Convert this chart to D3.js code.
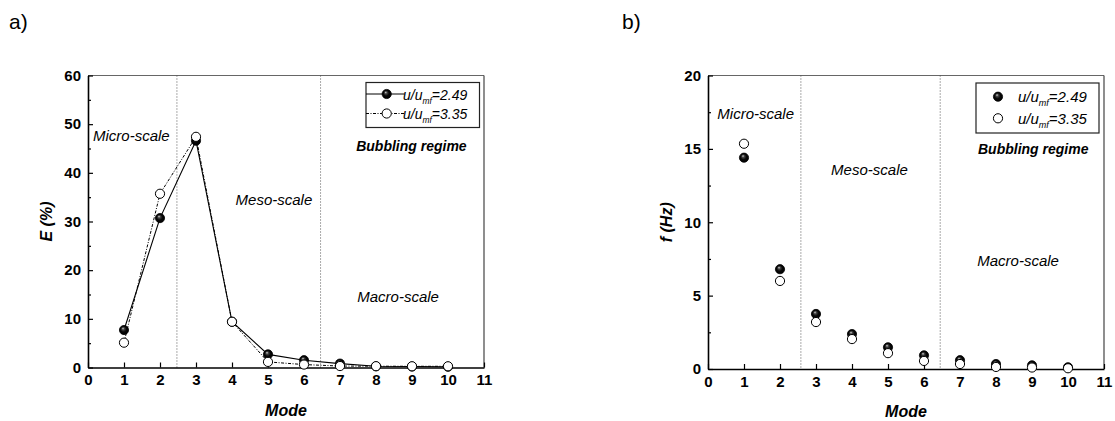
<!DOCTYPE html>
<html>
<head>
<meta charset="utf-8">
<script src="https://cdn.jsdelivr.net/npm/d3@7"></script>
<style>
  html, body { margin: 0; padding: 0; background: #fff; }
  svg { display: block; font-family: "Liberation Sans", Arial, Helvetica, sans-serif; }
</style>
</head>
<body>
<svg id="fig" width="1115" height="421"></svg>
<script>
// Mode numbers (x) shared by both panels
const modes = [1, 2, 3, 4, 5, 6, 7, 8, 9, 10];
const xTicks = [0, 1, 2, 3, 4, 5, 6, 7, 8, 9, 10, 11];

// Panel a) energy fraction E (%) per mode
const energyLow  = [7.7, 30.7, 46.6, 9.4, 2.7, 1.5, 0.8, 0.25, 0.2, 0.15];
const energyHigh = [5.1, 35.7, 47.4, 9.4, 1.15, 0.6, 0.3, 0.27, 0.25, 0.25];
const energyTicks = [0, 10, 20, 30, 40, 50, 60];

// Panel b) characteristic frequency f (Hz) per mode
const freqLow  = [14.4, 6.8, 3.75, 2.38, 1.48, 0.93, 0.6, 0.34, 0.25, 0.12];
const freqHigh = [15.35, 6.0, 3.2, 2.04, 1.08, 0.55, 0.34, 0.14, 0.1, 0.05];
const freqTicks = [0, 5, 10, 15, 20];

// Series names (superficial velocity ratios)
const seriesRatios = ["2.49", "3.35"];

const svg = d3.select("#fig");

// Shaded "ball" marker for the low-velocity series
const defs = svg.append("defs");
const grad = defs.append("radialGradient").attr("id", "ball")
  .attr("cx", "50%").attr("cy", "50%").attr("r", "55%")
  .attr("fx", "38%").attr("fy", "30%");
grad.append("stop").attr("offset", "0%").attr("stop-color", "#d8d8d8");
grad.append("stop").attr("offset", "25%").attr("stop-color", "#444");
grad.append("stop").attr("offset", "55%").attr("stop-color", "#080808");
grad.append("stop").attr("offset", "100%").attr("stop-color", "#000");

const FONT = '"Liberation Sans", Arial, Helvetica, sans-serif';

function drawPanel(cfg) {
  const g = svg.append("g");
  const x = d3.scaleLinear().domain([0, 11]).range([cfg.left, cfg.right]);
  const y = d3.scaleLinear().domain([0, cfg.yMax]).range([cfg.bottom, cfg.top]);

  // panel letter
  svg.append("text").attr("x", cfg.letterX).attr("y", 29)
    .attr("font-size", 21).attr("font-family", FONT).text(cfg.letter);

  // frame: top and right edges
  g.append("line").attr("x1", cfg.left).attr("x2", cfg.right)
    .attr("y1", cfg.top).attr("y2", cfg.top)
    .attr("stroke", "#666").attr("stroke-width", 1.2);
  g.append("line").attr("x1", cfg.right).attr("x2", cfg.right)
    .attr("y1", cfg.top).attr("y2", cfg.bottom)
    .attr("stroke", "#444").attr("stroke-width", 1.2);

  // regime separators
  cfg.separators.forEach(s => {
    g.append("line").attr("x1", x(s)).attr("x2", x(s))
      .attr("y1", cfg.top).attr("y2", cfg.bottom)
      .attr("stroke", "#555").attr("stroke-width", 1)
      .attr("stroke-dasharray", "1,2");
  });

  // minor y ticks
  const minor = d3.range(cfg.yMinorStep, cfg.yMax, cfg.yMinorStep * 2);
  g.append("g").attr("transform", `translate(${cfg.left},0)`)
    .call(d3.axisLeft(y).tickValues(minor).tickSize(-3).tickFormat(""))
    .call(a => a.select(".domain").remove())
    .call(a => a.selectAll("line").attr("stroke", "#000").attr("stroke-width", 1.2));

  // major y axis
  const ya = g.append("g").attr("transform", `translate(${cfg.left},0)`)
    .call(d3.axisLeft(y).tickValues(cfg.yTicks).tickSize(-5).tickPadding(7).tickSizeOuter(0));
  ya.select(".domain").attr("stroke", "#000").attr("stroke-width", 1.6);
  ya.selectAll("line").attr("stroke", "#000").attr("stroke-width", 1.2);
  ya.selectAll("text").attr("font-size", 15).attr("font-weight", "bold")
    .attr("font-family", FONT).attr("fill", "#000");

  // x axis
  const xa = g.append("g").attr("transform", `translate(0,${cfg.bottom})`)
    .call(d3.axisBottom(x).tickValues(xTicks).tickSize(-5).tickPadding(7).tickSizeOuter(0));
  xa.select(".domain").attr("stroke", "#000").attr("stroke-width", 1.6);
  xa.selectAll("line").attr("stroke", "#000").attr("stroke-width", 1.2);
  xa.selectAll("text").attr("font-size", 15).attr("font-weight", "bold")
    .attr("font-family", FONT).attr("fill", "#000");

  // axis titles
  g.append("text").attr("x", (cfg.left + cfg.right) / 2).attr("y", cfg.bottom + 48)
    .attr("text-anchor", "middle").attr("font-size", 16).attr("font-weight", "bold")
    .attr("font-style", "italic").attr("font-family", FONT).text("Mode");
  g.append("text")
    .attr("transform", `translate(${cfg.yTitleX},${(cfg.top + cfg.bottom) / 2}) rotate(-90)`)
    .attr("text-anchor", "middle").attr("font-size", 16).attr("font-weight", "bold")
    .attr("font-style", "italic").attr("font-family", FONT).text(cfg.yTitle);

  // regime annotations
  cfg.notes.forEach(n => {
    g.append("text").attr("x", x(n.x)).attr("y", y(n.y))
      .attr("font-size", n.size).attr("font-style", "italic")
      .attr("font-weight", n.bold ? "bold" : "normal")
      .attr("font-family", FONT).attr("dominant-baseline", "middle")
      .text(n.text);
  });

  const lowPts = modes.map((m, i) => [m, cfg.low[i]]);
  const highPts = modes.map((m, i) => [m, cfg.high[i]]);

  if (cfg.lines) {
    const line = d3.line().x(d => x(d[0])).y(d => y(d[1]));
    g.append("path").attr("d", line(lowPts)).attr("fill", "none")
      .attr("stroke", "#000").attr("stroke-width", 1.1);
    g.append("path").attr("d", line(highPts)).attr("fill", "none")
      .attr("stroke", "#000").attr("stroke-width", 1)
      .attr("stroke-dasharray", "3,1.5,1,1.5");
  }

  g.append("g").selectAll("circle").data(lowPts).join("circle")
    .attr("cx", d => x(d[0])).attr("cy", d => y(d[1])).attr("r", 4.6)
    .attr("fill", "url(#ball)").attr("stroke", "#000").attr("stroke-width", 0.8);
  g.append("g").selectAll("circle").data(highPts).join("circle")
    .attr("cx", d => x(d[0])).attr("cy", d => y(d[1])).attr("r", 4.6)
    .attr("fill", "#fff").attr("stroke", "#000").attr("stroke-width", 1);

  // legend
  const L = cfg.legend;
  g.append("rect").attr("x", L.x).attr("y", L.y).attr("width", L.w).attr("height", L.h)
    .attr("fill", "#fff").attr("stroke", "#222").attr("stroke-width", 1.2);
  seriesRatios.forEach((r, i) => {
    const ry = L.y + L.row0 + i * L.rowGap;
    if (cfg.lines) {
      const ln = g.append("line").attr("x1", L.x).attr("x2", L.markX + 18)
        .attr("y1", ry).attr("y2", ry).attr("stroke", "#000").attr("stroke-width", 1);
      if (i === 1) ln.attr("stroke-dasharray", "3,1.5,1,1.5");
    }
    g.append("circle").attr("cx", L.markX).attr("cy", ry).attr("r", 4.6)
      .attr("fill", i === 0 ? "url(#ball)" : "#fff")
      .attr("stroke", "#000").attr("stroke-width", i === 0 ? 0.8 : 1);
    const t = g.append("text").attr("x", L.textX).attr("y", ry + 5.5)
      .attr("font-size", L.font).attr("font-style", "italic").attr("font-family", FONT);
    t.append("tspan").text("u/u");
    t.append("tspan").attr("dy", 4).attr("font-size", L.font * 0.6).text("mf");
    t.append("tspan").attr("dy", -4).text("=" + r);
  });
}

drawPanel({
  letter: "a)", letterX: 9,
  left: 88, right: 484, top: 75.5, bottom: 367.5,
  yMax: 60, yTicks: energyTicks, yMinorStep: 5,
  yTitle: "E (%)", yTitleX: 52,
  low: energyLow, high: energyHigh, lines: true,
  separators: [2.47, 6.46],
  notes: [
    { text: "Micro-scale", x: 0.14, y: 47.3, size: 15 },
    { text: "Meso-scale", x: 4.1, y: 34.3, size: 15 },
    { text: "Bubbling regime", x: 7.45, y: 45.2, size: 14, bold: true },
    { text: "Macro-scale", x: 7.48, y: 14.3, size: 15 }
  ],
  legend: { x: 366, y: 82.5, w: 113.5, h: 45, row0: 11.5, rowGap: 19.5, markX: 386.7, textX: 403, font: 14 }
});

drawPanel({
  letter: "b)", letterX: 622,
  left: 708, right: 1104, top: 75.5, bottom: 369,
  yMax: 20, yTicks: freqTicks, yMinorStep: 2.5,
  yTitle: "f (Hz)", yTitleX: 672,
  low: freqLow, high: freqHigh, lines: false,
  separators: [2.58, 6.45],
  notes: [
    { text: "Micro-scale", x: 0.26, y: 17.3, size: 15 },
    { text: "Meso-scale", x: 3.42, y: 13.5, size: 15 },
    { text: "Bubbling regime", x: 7.5, y: 14.9, size: 14, bold: true },
    { text: "Macro-scale", x: 7.48, y: 7.3, size: 15 }
  ],
  legend: { x: 976, y: 83, w: 123, h: 50, row0: 13.7, rowGap: 21.6, markX: 998, textX: 1018, font: 15 }
});
</script>
</body>
</html>
